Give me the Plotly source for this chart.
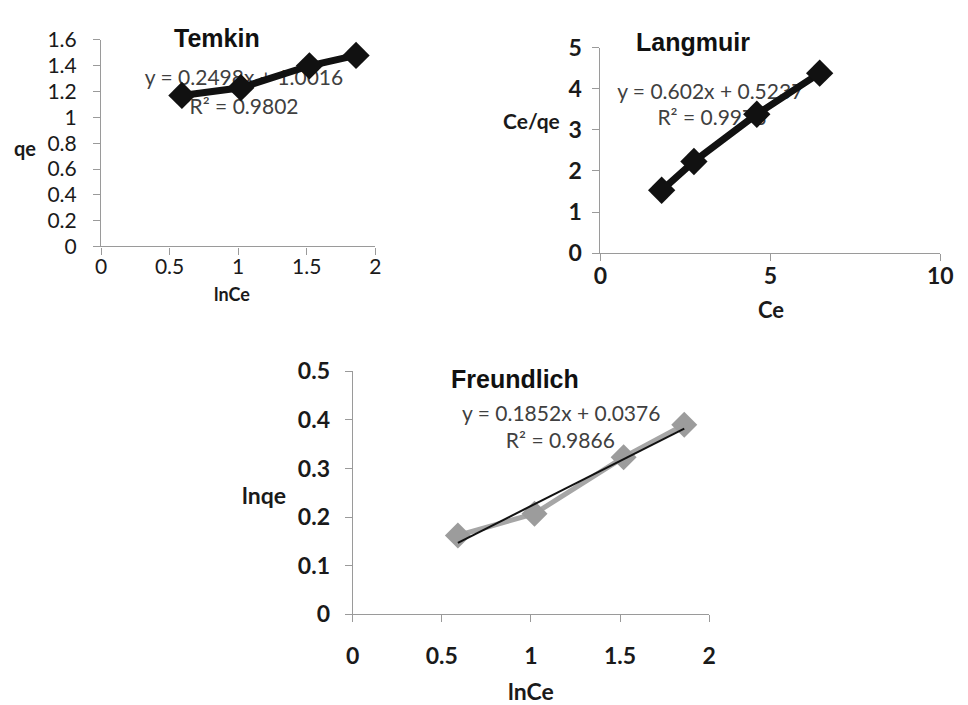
import plotly.graph_objects as go

# ---------------- data ----------------
ln_ce = [0.59, 1.02, 1.52, 1.86]
temkin_qe = [1.17, 1.23, 1.40, 1.48]
lang_ce = [1.80, 2.75, 4.60, 6.45]
lang_ce_qe = [1.53, 2.23, 3.38, 4.38]
freund_ln_qe = [0.162, 0.207, 0.323, 0.390]

freund_slope = 0.1852
freund_intercept = 0.0376

temkin_eq = ["y = 0.2498x + 1.0016", "R² = 0.9802"]
lang_eq = ["y = 0.602x + 0.5237", "R² = 0.9978"]
freund_eq = ["y = 0.1852x + 0.0376", "R² = 0.9866"]

W, H = 968, 705


def px(x):
    return x / W


def py(y):
    return 1 - y / H


fig = go.Figure()

EQ_FONT = dict(family="Lato", size=21, color="#404040")
LABEL_FONT = dict(family="Lato", color="#1a1a1a", weight="bold")

# ---- Temkin (text first so the line covers it) ----
fig.add_trace(go.Scatter(x=[1.043, 1.043], y=[1.295, 1.07], mode="text",
                         text=temkin_eq, textfont=EQ_FONT, xaxis="x", yaxis="y",
                         showlegend=False, hoverinfo="skip", cliponaxis=False))
fig.add_trace(go.Scatter(x=ln_ce, y=temkin_qe, mode="lines+markers",
                         line=dict(color="#111111", width=7),
                         marker=dict(symbol="diamond", size=21, color="#111111"),
                         xaxis="x", yaxis="y", showlegend=False, cliponaxis=False))

# ---- Langmuir ----
fig.add_trace(go.Scatter(x=[3.23, 3.28], y=[3.88, 3.25], mode="text",
                         text=lang_eq, textfont=EQ_FONT, xaxis="x2", yaxis="y2",
                         showlegend=False, hoverinfo="skip", cliponaxis=False))
fig.add_trace(go.Scatter(x=lang_ce, y=lang_ce_qe, mode="lines+markers",
                         line=dict(color="#111111", width=7),
                         marker=dict(symbol="diamond", size=21, color="#111111"),
                         xaxis="x2", yaxis="y2", showlegend=False, cliponaxis=False))

# ---- Freundlich ----
fig.add_trace(go.Scatter(x=[1.17, 1.165], y=[0.409, 0.352], mode="text",
                         text=freund_eq, textfont=EQ_FONT, xaxis="x3", yaxis="y3",
                         showlegend=False, hoverinfo="skip", cliponaxis=False))
fig.add_trace(go.Scatter(x=ln_ce, y=freund_ln_qe, mode="lines+markers",
                         line=dict(color="#a6a6a6", width=5),
                         marker=dict(symbol="diamond", size=20, color="#9c9c9c"),
                         xaxis="x3", yaxis="y3", showlegend=False, cliponaxis=False))
trend_x = [min(ln_ce), max(ln_ce)]
trend_y = [freund_slope * v + freund_intercept for v in trend_x]
fig.add_trace(go.Scatter(x=trend_x, y=trend_y, mode="lines",
                         line=dict(color="#111111", width=2),
                         xaxis="x3", yaxis="y3", showlegend=False))

AX_COMMON = dict(showline=True, linecolor="#9a9a9a", linewidth=1.2,
                 ticks="outside", ticklen=7, tickcolor="#9a9a9a", tickwidth=1.2,
                 showgrid=False, zeroline=False, mirror=False, fixedrange=True)

tick_reg = dict(family="Lato", size=21, color="#1a1a1a")
tick_bold = dict(family="Lato", size=23, color="#1a1a1a", weight="bold")

fig.update_layout(
    width=W, height=H,
    margin=dict(l=0, r=0, t=0, b=0),
    paper_bgcolor="white", plot_bgcolor="white",
    xaxis=dict(domain=[px(96), px(376)], range=[0, 2], dtick=0.5, anchor="y",
               tickfont=tick_reg, ticklabelstandoff=-6, **AX_COMMON),
    yaxis=dict(domain=[py(241), py(26)], range=[0, 1.6], dtick=0.2, anchor="x",
               tickfont=tick_reg, ticklabelstandoff=12, **AX_COMMON),
    xaxis2=dict(domain=[px(606), px(953)], range=[0, 10], dtick=5, anchor="y2",
                tickfont=tick_bold, ticklabelstandoff=-5, **AX_COMMON),
    yaxis2=dict(domain=[py(248), py(34)], range=[0, 5], dtick=1, anchor="x2",
                tickfont=tick_bold, ticklabelstandoff=6, **AX_COMMON),
    xaxis3=dict(domain=[px(353), px(717)], range=[0, 2], dtick=0.5, anchor="y3",
                tickfont=tick_bold, ticklabelstandoff=14,
                title=dict(text="lnCe", font=dict(LABEL_FONT, size=23), standoff=19),
                **AX_COMMON),
    yaxis3=dict(domain=[py(624), py(371)], range=[0, 0.5], dtick=0.1, anchor="x3",
                tickfont=tick_bold, ticklabelstandoff=10, **AX_COMMON),
)

TITLE_FONT = dict(family="Liberation Sans", size=25, color="#111111", weight="bold")

annos = [
    ("Temkin", 214, 24, TITLE_FONT),
    ("Langmuir", 700, 28, TITLE_FONT),
    ("Freundlich", 519, 379, TITLE_FONT),
    ("qe", 18, 139, dict(LABEL_FONT, size=20)),
    ("lnCe", 230, 291, dict(LABEL_FONT, size=18)),
    ("Ce/qe", 536, 110, dict(LABEL_FONT, size=21)),
    ("Ce", 780, 307, dict(LABEL_FONT, size=22)),
    ("lnqe", 262, 500, dict(LABEL_FONT, size=23)),
]
for text, x, y, font in annos:
    fig.add_annotation(text=text, x=px(x), y=py(y), xref="paper", yref="paper",
                       showarrow=False, font=font, xanchor="center", yanchor="middle")

fig.write_html("out.html")
